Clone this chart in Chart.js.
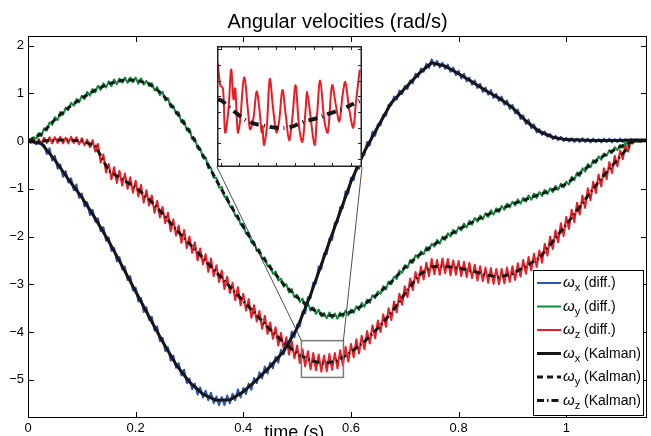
<!DOCTYPE html>
<html lang="en">
<head>
<meta charset="UTF-8">
<title>Angular velocities</title>
<style>
  body { margin: 0; background: #fff; }
  #wrap { position: relative; width: 651px; height: 436px; overflow: hidden; }
  #mainChart { position: absolute; left: 0; top: 0; }
  #zoomBox { position: absolute; left: 217px; top: 46px; width: 145px; height: 121px; background: #fff; }
  #zoomChart { display: block; }
</style>
</head>
<body>
<div id="wrap">
  <canvas id="mainChart" width="651" height="436"></canvas>
  <div id="zoomBox"><canvas id="zoomChart" width="145" height="121"></canvas></div>
</div>

<script src="https://cdn.jsdelivr.net/npm/chart.js"></script>
<script>
// ---- data ----
const titleText = 'Angular velocities (rad/s)';
const xLabel = 'time (s)';
const xTicks = [0, 0.2, 0.4, 0.6, 0.8, 1];
const yTicks = [-5, -4, -3, -2, -1, 0, 1, 2];

// Kalman estimates, every 0.025 s
const tKalman = [0,0.025,0.05,0.075,0.1,0.125,0.15,0.175,0.2,0.225,0.25,0.275,0.3,0.325,0.35,0.375,0.4,0.425,0.45,0.475,
  0.5,0.525,0.55,0.575,0.6,0.625,0.65,0.675,0.7,0.725,0.75,0.775,0.8,0.825,0.85,0.875,0.9,0.925,0.95,0.975,
  1,1.025,1.05,1.075,1.1,1.125,1.15];
const wxKalman = [0,-0.05,-0.4,-0.8,-1.18,-1.62,-2.1,-2.62,-3.15,-3.68,-4.2,-4.68,-5.05,-5.3,-5.43,-5.42,-5.25,-5,-4.72,-4.4,
  -3.92,-3.22,-2.43,-1.64,-0.85,-0.22,0.3,0.8,1.1,1.4,1.64,1.57,1.41,1.24,1.06,0.9,0.7,0.42,0.2,0.08,
  0.03,0.02,0.01,0.01,0.01,0.02,0.02];
const wyKalman = [0,0.15,0.45,0.7,0.9,1.07,1.2,1.27,1.28,1.2,0.98,0.62,0.2,-0.3,-0.82,-1.32,-1.8,-2.25,-2.65,-3,
  -3.27,-3.5,-3.65,-3.66,-3.58,-3.42,-3.2,-2.95,-2.65,-2.4,-2.2,-2.02,-1.85,-1.7,-1.56,-1.44,-1.32,-1.22,-1.12,-1.02,
  -0.9,-0.68,-0.45,-0.27,-0.12,0,0];
const wzKalman = [0,0,0.02,0.02,0,-0.1,-0.62,-0.8,-0.97,-1.22,-1.52,-1.85,-2.15,-2.45,-2.75,-3.05,-3.35,-3.65,-3.95,-4.22,
  -4.45,-4.6,-4.66,-4.6,-4.42,-4.2,-3.92,-3.6,-3.2,-2.82,-2.63,-2.62,-2.66,-2.72,-2.8,-2.85,-2.78,-2.62,-2.45,-2.1,
  -1.75,-1.38,-1,-0.65,-0.33,0,0];

// differentiated (noisy) signals, every 0.005 s from 0
const wxDiff = [
  0,-0.02,-0.01,-0.07,0, -0.08,-0.08,-0.27,-0.15,-0.41, -0.31,-0.58,-0.49,-0.75,-0.63, -0.87,-0.78,-1.03,-0.91,-1.19,
  -1.1,-1.37,-1.28,-1.55,-1.44, -1.69,-1.62,-1.89,-1.8,-2.09, -2.02,-2.3,-2.24,-2.52,-2.43, -2.69,-2.63,-2.91,-2.83,-3.13,
  -3.07,-3.36,-3.29,-3.58,-3.48, -3.75,-3.68,-3.97,-3.88,-4.19, -4.12,-4.4,-4.32,-4.6,-4.49, -4.75,-4.65,-4.91,-4.79,-5.07,
  -4.97,-5.2,-5.08,-5.31,-5.16, -5.37,-5.23,-5.43,-5.27,-5.49, -5.35,-5.53,-5.36,-5.53,-5.33, -5.49,-5.29,-5.43,-5.2,-5.37,
  -5.17,-5.3,-5.08,-5.21,-4.96, -5.07,-4.84,-4.97,-4.72,-4.87, -4.64,-4.76,-4.52,-4.64,-4.37, -4.47,-4.2,-4.29,-3.99,-4.11,
  -3.84,-3.88,-3.57,-3.61,-3.27, -3.29,-2.96,-2.98,-2.63,-2.68, -2.35,-2.37,-2.04,-2.07,-1.71, -1.71,-1.38,-1.4,-1.05,-1.1,
  -0.77,-0.82,-0.53,-0.58,-0.26, -0.29,-0.02,-0.09,0.2,0.11, 0.35,0.33,0.55,0.53,0.76, 0.75,0.93,0.87,1.06,0.98,
  1.15,1.09,1.27,1.21,1.41, 1.34,1.52,1.45,1.62,1.53, 1.71,1.57,1.68,1.54,1.64, 1.51,1.6,1.45,1.54,1.38,
  1.47,1.31,1.41,1.25,1.33, 1.18,1.27,1.11,1.2,1.03, 1.12,0.97,1.07,0.9,0.99, 0.84,0.93,0.76,0.85,0.67,
  0.76,0.58,0.66,0.46,0.54, 0.36,0.45,0.27,0.35,0.18, 0.25,0.13,0.2,0.09,0.15, 0.04,0.11,0.02,0.09,0,
  0.07,-0.01,0.06,-0.02,0.05, -0.02,0.06,-0.02,0.05,-0.03, 0.05,-0.02,0.04,-0.03,0.05, -0.02,0.05,-0.03,0.04,-0.02,
  0.05,-0.02,0.04,-0.01,0.04, 0,0.03,0.01,0.02,0.01, 0.02];
const wyDiff = [
  0,0.02,0.08,0.05,0.17, 0.1,0.27,0.22,0.39,0.34, 0.5,0.44,0.61,0.55,0.7, 0.65,0.8,0.74,0.88,0.81,
  0.95,0.88,1.03,0.95,1.09, 1.02,1.16,1.07,1.21,1.12, 1.25,1.15,1.29,1.19,1.31, 1.22,1.33,1.22,1.33,1.23,
  1.33,1.2,1.31,1.18,1.26, 1.15,1.21,1.06,1.13,0.96, 1.03,0.85,0.9,0.71,0.74, 0.57,0.6,0.39,0.43,0.22,
  0.25,0.04,0.06,-0.15,-0.15, -0.35,-0.34,-0.57,-0.56,-0.77, -0.77,-0.98,-0.96,-1.17,-1.16, -1.37,-1.37,-1.57,-1.56,-1.75,
  -1.74,-1.94,-1.92,-2.13,-2.11, -2.3,-2.27,-2.47,-2.44,-2.62, -2.6,-2.78,-2.73,-2.92,-2.88, -3.05,-3,-3.17,-3.1,-3.27,
  -3.22,-3.37,-3.3,-3.47,-3.4, -3.55,-3.48,-3.62,-3.53,-3.67, -3.6,-3.71,-3.59,-3.71,-3.61, -3.72,-3.59,-3.68,-3.55,-3.65,
  -3.53,-3.6,-3.46,-3.54,-3.39, -3.47,-3.32,-3.39,-3.23,-3.29, -3.15,-3.2,-3.04,-3.11,-2.94, -3,-2.84,-2.89,-2.71,-2.76,
  -2.6,-2.66,-2.49,-2.55,-2.39, -2.45,-2.31,-2.37,-2.22,-2.29, -2.15,-2.21,-2.07,-2.15,-2, -2.07,-1.93,-2,-1.86,-1.94,
  -1.8,-1.87,-1.73,-1.81,-1.67, -1.75,-1.61,-1.69,-1.56,-1.64, -1.51,-1.59,-1.45,-1.54,-1.41, -1.49,-1.36,-1.44,-1.31,-1.39,
  -1.27,-1.35,-1.22,-1.31,-1.19, -1.27,-1.14,-1.23,-1.1,-1.19, -1.07,-1.15,-1.02,-1.11,-0.99, -1.07,-0.94,-1.02,-0.89,-0.97,
  -0.85,-0.91,-0.75,-0.82,-0.66, -0.73,-0.57,-0.64,-0.48,-0.55, -0.4,-0.46,-0.32,-0.39,-0.26, -0.31,-0.19,-0.25,-0.13,-0.19,
  -0.08,-0.14,-0.03,-0.08,0.01, -0.01,0.01,0,0.01,0, 0];
const wzDiff = [
  0,-0.04,0.05,-0.06,0.04, -0.06,0.07,-0.04,0.08,-0.05, 0.08,-0.04,0.09,-0.05,0.07, -0.05,0.09,-0.04,0.08,-0.07,
  0.06,-0.09,0.03,-0.13,0.02, -0.22,-0.06,-0.45,-0.28,-0.66, -0.48,-0.8,-0.55,-0.88,-0.62, -0.93,-0.68,-1,-0.76,-1.08,
  -0.83,-1.16,-0.92,-1.29,-1.03, -1.35,-1.14,-1.5,-1.25,-1.6, -1.38,-1.72,-1.5,-1.89,-1.64, -1.98,-1.77,-2.13,-1.86,-2.24,
  -2,-2.34,-2.12,-2.5,-2.25, -2.58,-2.37,-2.74,-2.46,-2.83, -2.6,-2.95,-2.71,-3.1,-2.84, -3.18,-2.97,-3.33,-3.06,-3.44,
  -3.2,-3.55,-3.31,-3.7,-3.44, -3.78,-3.56,-3.93,-3.66,-4.04, -3.8,-4.14,-3.9,-4.28,-4.02, -4.35,-4.11,-4.47,-4.19,-4.55,
  -4.28,-4.65,-4.36,-4.72,-4.4, -4.78,-4.44,-4.8,-4.47,-4.83, -4.49,-4.82,-4.46,-4.79,-4.44, -4.76,-4.38,-4.7,-4.31,-4.62,
  -4.25,-4.53,-4.15,-4.45,-4.08, -4.36,-3.98,-4.24,-3.86,-4.13, -3.76,-4,-3.63,-3.89,-3.5, -3.75,-3.36,-3.59,-3.2,-3.43,
  -3.04,-3.27,-2.88,-3.12,-2.74, -2.97,-2.63,-2.9,-2.55,-2.83, -2.47,-2.79,-2.49,-2.8,-2.46, -2.77,-2.47,-2.81,-2.5,-2.8,
  -2.51,-2.83,-2.53,-2.85,-2.55, -2.87,-2.59,-2.92,-2.62,-2.93, -2.65,-2.97,-2.66,-2.99,-2.68, -3,-2.68,-2.98,-2.65,-2.95,
  -2.62,-2.91,-2.56,-2.84,-2.49, -2.78,-2.43,-2.71,-2.36,-2.64, -2.29,-2.55,-2.15,-2.4,-2, -2.26,-1.87,-2.12,-1.72,-1.99,
  -1.59,-1.84,-1.44,-1.7,-1.29, -1.54,-1.14,-1.4,-0.99,-1.24, -0.85,-1.09,-0.7,-0.95,-0.57, -0.8,-0.44,-0.67,-0.31,-0.53,
  -0.2,-0.38,-0.08,-0.22,0, -0.03,0.01,-0.01,0.01,0, 0];
const tDiff = wxDiff.map((_, i) => i * 0.005);

// zoomed window (inset)
const zoomX = [0.508, 0.586];
const zoomY = [-4.95, -4.18];
const insetXTicks = [0.51, 0.52, 0.53, 0.54, 0.55, 0.56, 0.57, 0.58];
const insetYTicks = [-4.9, -4.8, -4.7, -4.6, -4.5, -4.4, -4.3, -4.2];
const tInsetRed = [0.5084,0.5098,0.5112,0.5124,0.5142,0.5156,0.5169,0.5178,0.5192,0.5204,0.5226,0.5249,0.5258,0.5276,0.5293,0.5308,
  0.532,0.5325,0.5332,0.5347,0.5364,0.5382,0.54,0.5414,0.5432,0.545,0.5468,0.5485,0.5503,0.5521,0.5539,0.5557,
  0.5564,0.5578,0.5605,0.5617,0.5635,0.5658,0.5676,0.5699,0.572,0.5738,0.5756,0.577,0.5791,0.5813,0.5827,0.5848];
const insetRed = [-4.29,-4.43,-4.45,-4.73,-4.58,-4.33,-4.52,-4.45,-4.73,-4.66,-4.38,-4.62,-4.71,-4.64,-4.47,-4.58,
  -4.73,-4.69,-4.81,-4.71,-4.39,-4.58,-4.73,-4.66,-4.46,-4.62,-4.78,-4.64,-4.43,-4.69,-4.79,-4.58,
  -4.47,-4.58,-4.81,-4.64,-4.4,-4.66,-4.73,-4.43,-4.56,-4.66,-4.49,-4.41,-4.58,-4.7,-4.54,-4.33];
const tInsetKalman = [0.5084,0.5107,0.5187,0.5258,0.5329,0.54,0.5471,0.5542,0.5613,0.5684,0.5756,0.5827,0.5848];
const insetKalman = [-4.52,-4.53,-4.61,-4.665,-4.686,-4.7,-4.697,-4.665,-4.64,-4.61,-4.58,-4.54,-4.53];

const legendSubs = ['x', 'y', 'z', 'x', 'y', 'z'];
const legendTags = ['(diff.)', '(diff.)', '(diff.)', '(Kalman)', '(Kalman)', '(Kalman)'];

// ---- styles ----
const BLUE = '#2f55b0', GREEN = '#0e8a3c', RED = '#ec1c24', BLACK = '#161616';
const FONT = '"Liberation Sans", Arial, Helvetica, sans-serif';
const dashY = [6, 4];
const dashZ = [7, 3, 1.5, 3];

const pts = (ts, ys) => ys.map((y, i) => ({ x: ts[i], y: y }));
const line = (label, data, color, width, dash, order, tension) => ({
  label, data, borderColor: color, borderWidth: width, borderDash: dash || [],
  pointRadius: 0, tension: tension || 0, fill: false, order: order, borderJoinStyle: 'round'
});

const legendStyles = [
  { color: BLUE, width: 2, dash: [] },
  { color: GREEN, width: 2, dash: [] },
  { color: RED, width: 2, dash: [] },
  { color: BLACK, width: 3, dash: [] },
  { color: BLACK, width: 3, dash: dashY },
  { color: BLACK, width: 3, dash: dashZ }
];

const zoomBox = document.getElementById('zoomBox');

// frame, ticks, zoom box, legend, labels
const decor = {
  id: 'decor',
  afterDatasetsDraw(chart) {
    const { ctx, chartArea: a, scales: { x, y } } = chart;
    ctx.save();

    // zoom rectangle and connector lines
    const rx0 = x.getPixelForValue(zoomX[0]), rx1 = x.getPixelForValue(zoomX[1]);
    const ry0 = y.getPixelForValue(zoomY[1]), ry1 = y.getPixelForValue(zoomY[0]);
    ctx.strokeStyle = '#7a7a7a';
    ctx.lineWidth = 1.5;
    ctx.strokeRect(rx0, ry0, rx1 - rx0, ry1 - ry0);
    const bx0 = zoomBox.offsetLeft, bx1 = bx0 + zoomBox.offsetWidth;
    const by = zoomBox.offsetTop + zoomBox.offsetHeight;
    ctx.strokeStyle = '#222';
    ctx.lineWidth = 0.8;
    ctx.beginPath();
    ctx.moveTo(bx0, by); ctx.lineTo(rx0, ry0);
    ctx.moveTo(bx1, by); ctx.lineTo(rx1, ry0);
    ctx.stroke();

    // axes box + inward ticks
    ctx.strokeStyle = '#000';
    ctx.lineWidth = 1;
    ctx.strokeRect(a.left + 0.5, a.top + 0.5, a.right - a.left - 1, a.bottom - a.top - 1);
    ctx.beginPath();
    xTicks.forEach(v => {
      const px = Math.round(x.getPixelForValue(v)) + 0.5;
      ctx.moveTo(px, a.bottom); ctx.lineTo(px, a.bottom - 6);
      ctx.moveTo(px, a.top); ctx.lineTo(px, a.top + 6);
    });
    yTicks.forEach(v => {
      const py = Math.round(y.getPixelForValue(v)) + 0.5;
      ctx.moveTo(a.left, py); ctx.lineTo(a.left + 6, py);
      ctx.moveTo(a.right, py); ctx.lineTo(a.right - 6, py);
    });
    ctx.stroke();

    // legend box
    const lx = 533, ly = 270, lw = 111, lh = 146;
    ctx.fillStyle = '#fff';
    ctx.fillRect(lx, ly, lw, lh);
    ctx.strokeStyle = '#000';
    ctx.lineWidth = 1;
    ctx.strokeRect(lx + 0.5, ly + 0.5, lw - 1, lh - 1);
    legendStyles.forEach((s, i) => {
      const cy = ly + 13 + i * 23.5;
      ctx.strokeStyle = s.color;
      ctx.lineWidth = s.width;
      ctx.setLineDash(s.dash);
      ctx.beginPath();
      ctx.moveTo(lx + 4, cy); ctx.lineTo(lx + 28, cy);
      ctx.stroke();
      ctx.setLineDash([]);
      ctx.fillStyle = '#000';
      ctx.textAlign = 'left';
      ctx.textBaseline = 'alphabetic';
      let tx = lx + 30;
      ctx.font = 'italic 15px ' + FONT;
      ctx.fillText('\u03c9', tx, cy + 4);
      tx += ctx.measureText('\u03c9').width;
      ctx.font = '11px ' + FONT;
      ctx.fillText(legendSubs[i], tx, cy + 8);
      tx += ctx.measureText(legendSubs[i]).width;
      ctx.font = '14px ' + FONT;
      ctx.fillText(' ' + legendTags[i], tx, cy + 4);
    });

    // title and x label
    ctx.fillStyle = '#000';
    ctx.textAlign = 'center';
    ctx.textBaseline = 'alphabetic';
    ctx.font = '20px ' + FONT;
    ctx.fillText(titleText, (a.left + a.right) / 2, 28);
    ctx.font = '18px ' + FONT;
    ctx.fillText(xLabel, a.left + (a.right - a.left) * 0.43, 438);
    ctx.restore();
  }
};

const tickFont = { family: FONT, size: 13 };
const minus = v => (v < 0 ? '\u2212' + (-v) : String(v));

new Chart(document.getElementById('mainChart'), {
  type: 'line',
  data: {
    datasets: [
      line('\u03c9x (Kalman)', pts(tKalman, wxKalman), BLACK, 3, [], 0),
      line('\u03c9y (Kalman)', pts(tKalman, wyKalman), BLACK, 3, dashY, 0),
      line('\u03c9z (Kalman)', pts(tKalman, wzKalman), BLACK, 3, dashZ, 0),
      line('\u03c9x (diff.)', pts(tDiff, wxDiff), BLUE, 2, [], 1),
      line('\u03c9y (diff.)', pts(tDiff, wyDiff), GREEN, 2, [], 1),
      line('\u03c9z (diff.)', pts(tDiff, wzDiff), RED, 2, [], 1)
    ]
  },
  options: {
    responsive: false,
    animation: false,
    events: [],
    layout: { padding: { top: 36, right: 4, left: 0, bottom: 0 } },
    plugins: { legend: { display: false }, title: { display: false }, tooltip: { enabled: false } },
    scales: {
      x: {
        type: 'linear', min: 0, max: 1.15,
        afterBuildTicks: s => { s.ticks = xTicks.map(v => ({ value: v })); },
        afterFit: s => { s.height = 18; },
        grid: { display: false, drawTicks: false },
        border: { display: false },
        ticks: { padding: 3, color: '#000', font: tickFont, maxRotation: 0, autoSkip: false, callback: v => String(v) }
      },
      y: {
        type: 'linear', min: -5.8, max: 2.2,
        afterBuildTicks: s => { s.ticks = yTicks.map(v => ({ value: v })); },
        afterFit: s => { s.width = 28; },
        grid: { display: false, drawTicks: false },
        border: { display: false },
        ticks: { padding: 4, color: '#000', font: tickFont, autoSkip: false, callback: minus }
      }
    }
  },
  plugins: [decor]
});

// inset
const insetDecor = {
  id: 'insetDecor',
  afterDatasetsDraw(chart) {
    const { ctx, chartArea: a, scales: { x, y } } = chart;
    ctx.save();
    ctx.strokeStyle = '#222';
    ctx.lineWidth = 1.5;
    ctx.strokeRect(a.left + 0.75, a.top + 0.75, a.right - a.left - 1.5, a.bottom - a.top - 1.5);
    ctx.lineWidth = 1;
    ctx.beginPath();
    insetXTicks.forEach(v => {
      const px = Math.round(x.getPixelForValue(v)) + 0.5;
      ctx.moveTo(px, a.top); ctx.lineTo(px, a.top + 4);
      ctx.moveTo(px, a.bottom); ctx.lineTo(px, a.bottom - 4);
    });
    insetYTicks.forEach(v => {
      const py = Math.round(y.getPixelForValue(v)) + 0.5;
      ctx.moveTo(a.left, py); ctx.lineTo(a.left + 4, py);
      ctx.moveTo(a.right, py); ctx.lineTo(a.right - 4, py);
    });
    ctx.stroke();
    ctx.restore();
  }
};

new Chart(document.getElementById('zoomChart'), {
  type: 'line',
  data: {
    datasets: [
      line('\u03c9z (Kalman)', pts(tInsetKalman, insetKalman), BLACK, 4, [9, 5, 1, 5], 0, 0.4),
      line('\u03c9z (diff.)', pts(tInsetRed, insetRed), RED, 2, [], 1, 0.35)
    ]
  },
  options: {
    responsive: false,
    animation: false,
    events: [],
    layout: { padding: 0 },
    plugins: { legend: { display: false }, tooltip: { enabled: false } },
    scales: {
      x: { type: 'linear', display: false, min: zoomX[0], max: zoomX[1] },
      y: { type: 'linear', display: false, min: zoomY[0], max: zoomY[1] }
    }
  },
  plugins: [insetDecor]
});
</script>
</body>
</html>
